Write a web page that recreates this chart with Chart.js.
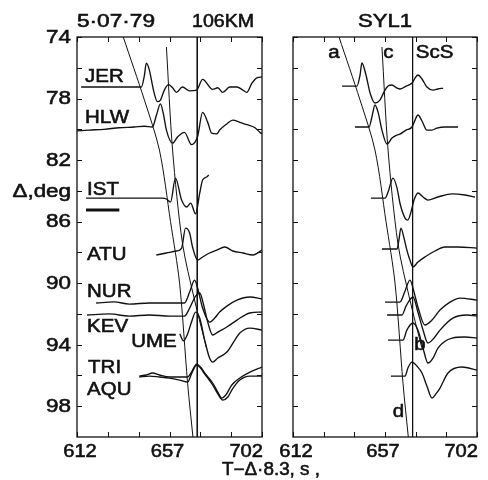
<!DOCTYPE html>
<html>
<head>
<meta charset="utf-8">
<script src="https://cdn.jsdelivr.net/npm/chart.js@4.4.1/dist/chart.umd.min.js"></script>
<style>
  html, body { margin: 0; padding: 0; background: #fff; }
  #wrap { position: relative; width: 488px; height: 480px; }
  canvas { position: absolute; top: 0; }
  #c-left  { left: 0; }
  #c-right { left: 268px; }
</style>
</head>
<body>
<div id="wrap">
  <canvas id="c-left" width="488" height="480"></canvas>
  <canvas id="c-right" width="220" height="480"></canvas>
</div>
<script>
// ─── Axis ticks ──────────────────────────────────────────────────────────────
const xTicks      = [612, 627, 642, 657, 672, 687, 702];
const xTickLabels = ['612', '', '', '657', '', '', '702'];
const yTicks      = [74, 76, 78, 80, 82, 84, 86, 88, 90, 92, 94, 96, 98];
const yTickLabels = ['74', '', '78', '', '82', 'Δ,deg', '86', '', '90', '', '94', '', '98'];

// ─── Seismograms, [T − Δ·8.3 (s), Δ (deg)] — left panel, 5·07·79 ────────────
const jer = [[614,77.25],[643.3,77.25],[644.8,76.5],[645.7,75.7],[647.2,76.15],[649.2,77.45],[651.1,78.2],[652.6,78.1],[654.5,77.45],[656.5,77.1],[658.5,77.3],[660.4,77.6],[663.3,77.25],[666.8,77.5],[670.2,77.45],[673.1,76.75],[678,77.4],[680.5,77.3],[682.9,77.6],[686.3,77.25],[689.8,77.25],[692.7,77.45],[694.6,77.6],[697.1,77],[699.5,76.65],[702,76.6]];
const hlw = [[612,80.1],[617.9,80.05],[625.2,80],[632.5,79.9],[639.9,79.85],[644.8,79.8],[648.7,79.85],[650.6,79.1],[652.6,78.35],[654.1,79.05],[655.5,80.05],[658.5,80.9],[660.9,80.5],[664.3,80.2],[667.7,81],[670.7,80.45],[673.1,78.9],[675.6,79.55],[677.5,80.25],[680,80.3],[681.4,80.05],[684.9,79.65],[687.8,79.4],[691.2,79.55],[694.6,79.7],[698.6,79.9],[701,80.2],[702,80.3]];
const ist = [[616.4,84.47],[653.6,84.47],[655.5,84.53],[657.5,84.73],[659.9,83.17],[662.9,84.6],[665.3,85.05],[667.3,84.8],[669.7,85.5],[671.7,84.15],[673.1,83.3],[675.1,83.1],[676.1,82.97]];
const atu = [[650.6,88.17],[655.5,88.04],[660.4,87.91],[662.9,87.72],[664.8,86.42],[666.8,86.74],[668.2,87.65],[670.7,88.5],[673.1,88.3],[676.5,88.04],[680,87.85],[683.9,87.65],[687.8,87.91],[692.7,88.04],[697.6,88.17],[702,87.85]];
const nur = [[621.3,91.29],[630.1,91.22],[637.4,91.36],[647.2,91.29],[657,91.29],[664.3,91.29],[666.8,90.58],[669.2,89.8],[670.7,90.32],[673.1,91.62],[676.5,92.53],[679,92.27],[681.4,91.88],[684.9,91.49],[689.8,91.1],[696.1,90.9],[702,91.03]];
const kev = [[616.9,92.07],[627.6,92],[637.4,92.14],[647.2,92.07],[657,92.14],[664.3,92.14],[666.8,91.62],[669.7,90.84],[671.7,90.64],[673.6,91.42],[675.6,92.53],[678,93.37],[680.5,93.18],[684.9,92.85],[689.8,92.4],[696.1,91.94],[702,91.88]];
const ume = [[662,93.3],[663.8,93.75],[665.8,93.3],[667.7,92.53],[669.7,91.88],[671.7,92.27],[674.1,93.7],[676.5,94.87],[678,95.13],[680.5,94.87],[684.9,94.48],[688.8,93.7],[691.2,93.24],[696.1,92.92],[702,93.05]];
const tri = [[642.3,96.04],[645.7,95.97],[648.7,95.84],[652.1,95.97],[657,96.1],[661.9,96.1],[665.8,96.1],[667.7,95.78],[670.2,95.26],[672.1,95.45],[674.1,95.84],[678,96.49],[680.5,97.08],[682.4,97.47],[684.4,97.27],[687.3,96.62],[691.2,96.17],[696.1,95.78],[702,95.45]];
const aqu = [[642.3,96.1],[647.2,96.04],[652.1,96.1],[657,96.17],[661.9,96.3],[665.8,96.43],[667.7,95.9],[670.2,95.32],[672.1,95.52],[674.1,95.9],[678,96.62],[680.5,97.2],[682.9,97.6],[685.4,97.4],[687.3,96.95],[691.2,96.3],[696.1,96.04],[702,96.04]];
const ampBar = [[616.4,85.25],[632.6,85.25]];

// ─── Synthetics, right panel (SYL1) ──────────────────────────────────────────
const syl1 = [[636,77.19],[643.3,77.19],[644.8,76.47],[645.7,75.69],[647.7,76.47],[649.7,77.64],[652.1,78.29],[654.5,78.1],[657,77.45],[658.5,77.19],[660.4,77.12],[662.9,77.32],[664.3,77.38],[667.3,77.19],[670.2,76.99],[671.7,76.67],[673.1,76.47],[675.1,76.73],[677.5,77.25],[680.5,77.45],[682.9,77.38],[685.4,77.32]];
const syl2 = [[642.3,79.85],[649.2,79.85],[650.6,79.2],[652.1,78.42],[653.6,78.88],[655.5,80.05],[658,80.96],[660.4,80.57],[662.9,80.37],[664.3,80.31],[667.3,80.05],[670.2,79.85],[671.7,79.4],[673.1,79.07],[675.1,79.46],[677.5,80.05],[680,80.05],[682.4,79.92],[686.3,79.85],[692.7,79.85]];
const syl3 = [[650.1,84.47],[657,84.47],[658.5,84.08],[660.9,83.17],[662.9,83.82],[664.3,84.79],[666.8,85.77],[668.2,85.9],[669.7,85.38],[671.2,84.6],[673.1,84.14],[675.6,84.4],[678,84.6],[682.9,84.4],[689.8,84.2],[696.1,84.27],[701,84.4]];
const syl4 = [[655.5,87.78],[662.9,87.78],[663.8,87.2],[664.8,86.42],[666.3,87.07],[667.7,87.85],[669.2,88.5],[670.7,88.95],[673.1,88.63],[676.5,88.3],[681.4,87.91],[686.3,87.65],[692.7,87.65],[702,87.72]];
const syl5 = [[657,91.23],[664.3,91.23],[666.8,90.51],[669.2,89.8],[671.2,90.58],[673.1,91.55],[676.5,92.72],[680,92.4],[683.9,91.75],[688.8,91.23],[693.7,90.97],[702,91.1]];
const syl6 = [[658,92.07],[665.3,92.07],[667.3,91.49],[670.7,90.9],[673.1,91.88],[675.6,93.05],[678,93.89],[681,93.57],[683.9,93.05],[690.2,92.27],[697.1,92.07],[702,92.14]];
const syl7 = [[658.5,93.7],[665.8,93.7],[667.7,93.05],[670.7,92.59],[673.1,93.05],[675.6,94.22],[678,95.19],[680.5,94.87],[682.9,94.22],[689.8,93.57],[696.1,93.5],[702,93.57]];
const syl8 = [[659.9,96.04],[666.8,96.04],[668.2,95.52],[670.2,95.13],[672.6,95.39],[675.1,95.84],[677.5,96.69],[680,97.47],[681.9,97.2],[683.9,96.82],[687.8,95.84],[694.6,95.45],[702,95.65]];

// ─── Travel-time branches (both panels) ──────────────────────────────────────
const branchAD = [[634.5,74],[644.8,78.1],[652.1,81.35],[657.5,86],[661.9,90],[665.8,96.5],[668.4,100]];
const branchCB = [[655.5,74.65],[658.5,81.35],[663.3,87.4],[669.2,91.1],[675,94.2]];
const scsLine  = [[670.5,74],[670.5,100]];

// ─── Labels ──────────────────────────────────────────────────────────────────
const stationNames  = ['JER', 'HLW', 'IST', 'ATU', 'NUR', 'KEV', 'UME', 'TRI', 'AQU'];
const stationAnchor = [[615.9,76.93],[615.9,79.59],[616.9,84.27],[616.9,88.5],[616.9,90.9],[616.9,93.18],[638.4,94.15],[617.4,95.84],[616.9,97.27]];
const branchNames   = ['a', 'c', 'ScS', 'b', 'd'];
const branchAnchor  = [[632,75.37,'center'],[658.7,75.37,'center'],[672.1,75.37,'left'],[674.1,94.35,'center'],[663.6,98.7,'center']];

const FONT = "17.5px 'Liberation Sans', Arial, sans-serif";
const INK  = '#111';

// ─── Helpers ─────────────────────────────────────────────────────────────────

// printed lettering in the figure is wider and heavier than Arial
function putText(ctx, str, x, y, align, sx) {
  ctx.save();
  ctx.translate(x, y);
  ctx.scale(sx, 1);
  ctx.textAlign = align;
  ctx.lineWidth = 0.55;
  ctx.strokeText(str, 0, 0);
  ctx.fillText(str, 0, 0);
  ctx.restore();
}

function putTextW(ctx, str, x, y, w) {
  const sx = w / ctx.measureText(str).width;
  putText(ctx, str, x, y, 'left', sx);
}

function trace(pts, width) {
  return {
    data: pts.map(([x, y]) => ({ x, y })),
    showLine: true,
    borderColor: INK,
    borderWidth: width || 1.35,
    pointRadius: 0,
    cubicInterpolationMode: 'monotone'
  };
}

function guide(pts, tension) {
  return {
    data: pts.map(([x, y]) => ({ x, y })),
    showLine: true,
    borderColor: INK,
    borderWidth: 1,
    pointRadius: 0,
    tension: tension
  };
}

// ─── Frame, inward ticks and lettering ──────────────────────────────────────
const paperPlugin = {
  id: 'paper',
  afterDraw(chart, args, opts) {
    const { ctx, chartArea: a, scales: { x, y } } = chart;
    ctx.save();
    ctx.strokeStyle = INK;
    ctx.fillStyle = INK;

    ctx.lineWidth = 1.3;
    ctx.strokeRect(a.left, a.top, a.right - a.left, a.bottom - a.top);

    ctx.lineWidth = 1;
    ctx.beginPath();
    xTicks.forEach(v => {
      const px = Math.round(x.getPixelForValue(v)) + 0.5;
      ctx.moveTo(px, a.top);    ctx.lineTo(px, a.top + 5);
      ctx.moveTo(px, a.bottom); ctx.lineTo(px, a.bottom - 5);
    });
    yTicks.forEach(v => {
      const py = Math.round(y.getPixelForValue(v)) + 0.5;
      ctx.moveTo(a.left, py);  ctx.lineTo(a.left + 5, py);
      ctx.moveTo(a.right, py); ctx.lineTo(a.right - 5, py);
    });
    ctx.stroke();

    ctx.font = FONT;
    ctx.textBaseline = 'alphabetic';

    // x tick labels
    xTicks.forEach((v, i) => {
      const lab = xTickLabels[i];
      if (!lab) return;
      const px = x.getPixelForValue(v);
      if (i === 0)                       putText(ctx, lab, px + 3, a.bottom + 20, 'center', 1.15);
      else if (i === xTicks.length - 1)  putText(ctx, lab, a.right + 1, a.bottom + 20, 'right', 1.15);
      else                               putText(ctx, lab, px - 2, a.bottom + 20, 'center', 1.15);
    });

    if (opts.yLabels) {
      ctx.textBaseline = 'middle';
      yTicks.forEach((v, i) => {
        const lab = yTickLabels[i];
        if (!lab) return;
        putText(ctx, lab, a.left - 6, y.getPixelForValue(v) + 1, 'right', 1.28);
      });
      ctx.textBaseline = 'alphabetic';
    }

    (opts.names || []).forEach((n, i) => {
      const [t, d, al] = opts.anchors[i];
      putText(ctx, n, x.getPixelForValue(t), y.getPixelForValue(d), al || 'left', 1.17);
    });

    (opts.titles || []).forEach(tt => putTextW(ctx, tt.text, tt.x, tt.y, tt.w));

    ctx.restore();
  }
};

function makeChart(id, datasets, padding, opts) {
  return new Chart(document.getElementById(id), {
    type: 'scatter',
    data: { datasets },
    options: {
      responsive: false,
      animation: false,
      devicePixelRatio: 1,
      layout: { padding },
      plugins: {
        legend:  { display: false },
        tooltip: { enabled: false },
        paper: opts
      },
      scales: {
        x: { type: 'linear', min: 612, max: 702, display: false },
        y: { type: 'linear', min: 74, max: 100, reverse: true, display: false }
      }
    },
    plugins: [paperPlugin]
  });
}

// ─── Left panel: observed ────────────────────────────────────────────────────
makeChart('c-left', [
  guide(branchAD, 0.3), guide(branchCB, 0.3), guide(scsLine, 0),
  trace(jer), trace(hlw), trace(ist), trace(atu), trace(nur),
  trace(kev), trace(ume), trace(tri), trace(aqu),
  trace(ampBar, 3)
], { left: 77, right: 488 - 262, top: 37, bottom: 43 }, {
  yLabels: true,
  names: stationNames,
  anchors: stationAnchor,
  titles: [
    { text: '5·07·79',      x: 77,  y: 27,  w: 78 },
    { text: '106KM',        x: 192, y: 27,  w: 62 },
    { text: 'SYL1',         x: 358, y: 27,  w: 54 },
    { text: 'T−Δ·8.3, s ,', x: 222, y: 475, w: 98 }
  ]
});

// ─── Right panel: synthetics SYL1 ───────────────────────────────────────────
makeChart('c-right', [
  guide(branchAD, 0.3), guide(branchCB, 0.3), guide(scsLine, 0),
  trace(syl1), trace(syl2), trace(syl3), trace(syl4),
  trace(syl5), trace(syl6), trace(syl7), trace(syl8)
], { left: 293 - 268, right: 268 + 220 - 477, top: 37, bottom: 43 }, {
  yLabels: false,
  names: branchNames,
  anchors: branchAnchor
});
</script>
</body>
</html>
